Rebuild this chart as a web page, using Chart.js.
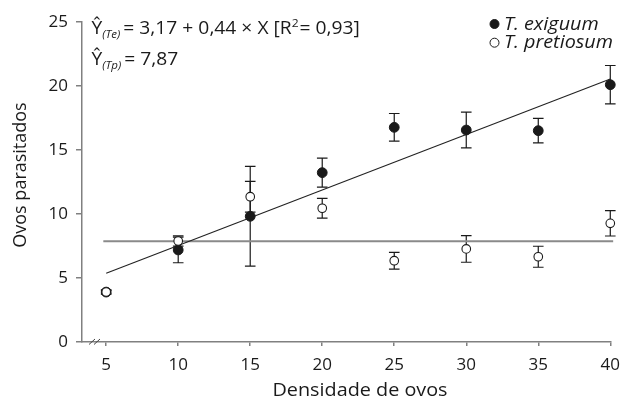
<!DOCTYPE html>
<html><head><meta charset="utf-8">
<script src="https://cdn.jsdelivr.net/npm/chart.js@4/dist/chart.umd.min.js"></script>
<style>html,body{margin:0;padding:0;background:#fff}#wrap{width:629px;height:400px}</style>
</head><body><div id="wrap"><canvas id="c" width="629" height="400"></canvas></div>
<script>
// ---- data ----
const densities      = [5, 10, 15, 20, 25, 30, 35, 40];
const exiguumMean    = [3.9, 7.19, 9.82, 13.23, 16.77, 16.56, 16.51, 20.1];
const exiguumErr     = [0.15, 1.0, 3.9, 1.13, 1.08, 1.4, 0.96, 1.5];
const pretiosumMean  = [3.9, 7.89, 11.35, 10.45, 6.35, 7.27, 6.66, 9.27];
const pretiosumErr   = [0.15, 0.4, 1.2, 0.77, 0.65, 1.04, 0.82, 0.99];
const fitExiguumX    = [5, 40];
const fitExiguumY    = [5.37, 20.55];
const fitPretiosumX  = [4.8, 40.2];
const fitPretiosumY  = [7.87, 7.87];
const xTickValues    = [5, 10, 15, 20, 25, 30, 35, 40];
const yTickValues    = [0, 5, 10, 15, 20, 25];
const seriesLabels   = ['T. exiguum', 'T. pretiosum'];
const xTitle = 'Densidade de ovos';
const yTitle = 'Ovos parasitados';
const eqTe = ['Ŷ', '(Te)', '= 3,17 + 0,44 × X [R', '2', '= 0,93]'];
const eqTp = ['Ŷ', '(Tp)', '= 7,87'];

const INK = '#1a1a1a';
const AXIS = '#808080';
const FONT = '"Open Sans", "Liberation Sans", sans-serif';

function pts(xs, ys) { return xs.map((v, i) => ({ x: v, y: ys[i] })); }

function txt(ctx, s, x, y, font, sx, align) {
  ctx.save();
  ctx.font = font;
  ctx.fillStyle = INK;
  ctx.translate(x, y);
  ctx.scale(sx || 1, 1);
  ctx.textAlign = align || 'left';
  ctx.textBaseline = 'alphabetic';
  ctx.fillText(s, 0, 0);
  const w = ctx.measureText(s).width * (sx || 1);
  ctx.restore();
  return w;
}

const errorBars = {
  id: 'errorBars',
  beforeDatasetsDraw(chart) {
    const { ctx, scales: { x, y } } = chart;
    ctx.save();
    ctx.strokeStyle = INK;
    ctx.lineWidth = 1.2;
    [[exiguumMean, exiguumErr], [pretiosumMean, pretiosumErr]].forEach(([m, e]) => {
      densities.forEach((d, i) => {
        const px = x.getPixelForValue(d);
        const t = y.getPixelForValue(m[i] + e[i]);
        const b = y.getPixelForValue(m[i] - e[i]);
        ctx.beginPath();
        ctx.moveTo(px, t); ctx.lineTo(px, b);
        ctx.moveTo(px - 5.3, t); ctx.lineTo(px + 5.3, t);
        ctx.moveTo(px - 5.3, b); ctx.lineTo(px + 5.3, b);
        ctx.stroke();
      });
    });
    ctx.restore();
  }
};

const annotations = {
  id: 'annotations',
  afterDraw(chart) {
    const ctx = chart.ctx;
    const SX = 1.1;
    const big = '17.5px ' + FONT;
    const small = 'italic 10.5px ' + FONT;
    const sup = '11px ' + FONT;
    // equation 1
    let x = 91.5, base = 33.5;
    x += txt(ctx, eqTe[0], x, base, big, SX);
    x += txt(ctx, eqTe[1], x, base + 4, small, SX) + 3;
    x += txt(ctx, eqTe[2], x, base, big, SX);
    x += txt(ctx, eqTe[3], x, base - 7, sup, SX) + 1;
    txt(ctx, eqTe[4], x, base, big, SX);
    // equation 2
    x = 91.5; base = 65;
    x += txt(ctx, eqTp[0], x, base, big, SX);
    x += txt(ctx, eqTp[1], x, base + 4, small, SX) + 3;
    txt(ctx, eqTp[2], x, base, big, SX);

    // legend
    const ds = chart.data.datasets;
    const legY = [24, 42.7];
    [0, 1].forEach(i => {
      ctx.save();
      ctx.beginPath();
      ctx.arc(494.5, legY[i], 4.5, 0, Math.PI * 2);
      ctx.fillStyle = ds[i].backgroundColor;
      ctx.fill();
      ctx.lineWidth = 1;
      ctx.strokeStyle = ds[i].borderColor;
      ctx.stroke();
      ctx.restore();
      txt(ctx, ds[i].label, 504, legY[i] + 5.5, 'italic 18px ' + FONT, 1.1);
    });

    // axis titles
    txt(ctx, xTitle, 360, 396, '18px ' + FONT, SX, 'center');
    ctx.save();
    ctx.translate(26, 175);
    ctx.rotate(-Math.PI / 2);
    txt(ctx, yTitle, 0, 0, '18px ' + FONT, 1, 'center');
    ctx.restore();

    // axis break marks
    ctx.save();
    ctx.strokeStyle = '#444';
    ctx.lineWidth = 1;
    ctx.beginPath();
    ctx.moveTo(89, 344.5); ctx.lineTo(95, 339);
    ctx.moveTo(94, 344.5); ctx.lineTo(100, 339);
    ctx.stroke();
    ctx.restore();
  }
};

new Chart(document.getElementById('c'), {
  type: 'scatter',
  data: {
    datasets: [
      { label: seriesLabels[0], data: pts(densities, exiguumMean), order: 1,
        pointRadius: 4.9, pointHoverRadius: 4.9, backgroundColor: INK, borderColor: INK, borderWidth: 1, clip: false },
      { label: seriesLabels[1], data: pts(densities, pretiosumMean), order: 0,
        pointRadius: 4.3, pointHoverRadius: 4.3, backgroundColor: '#ffffff', borderColor: INK, borderWidth: 1.1, clip: false },
      { label: 'fit Te', data: pts(fitExiguumX, fitExiguumY), order: 2, showLine: true,
        pointRadius: 0, borderColor: '#222', borderWidth: 1.1, clip: false },
      { label: 'fit Tp', data: pts(fitPretiosumX, fitPretiosumY), order: 3, showLine: true,
        pointRadius: 0, borderColor: '#8a8a8a', borderWidth: 2, clip: false }
    ]
  },
  options: {
    responsive: false,
    animation: false,
    devicePixelRatio: 1,
    layout: { padding: { left: 0, right: 11, top: 22, bottom: 0 } },
    plugins: { legend: { display: false }, tooltip: { enabled: false } },
    scales: {
      x: {
        type: 'linear', min: 3.32, max: 40,
        afterBuildTicks: s => { s.ticks = xTickValues.map(v => ({ value: v })); },
        afterFit: s => { s.height = 58; },
        ticks: { font: { family: FONT, size: 17 }, color: INK, padding: 9, maxRotation: 0 },
        grid: { drawOnChartArea: false, drawTicks: true, tickLength: 4, color: AXIS, lineWidth: 1.5 },
        border: { color: AXIS, width: 1.5 }
      },
      y: {
        type: 'linear', min: 0, max: 25,
        afterBuildTicks: s => { s.ticks = yTickValues.map(v => ({ value: v })); },
        afterFit: s => { s.width = 82; },
        ticks: { font: { family: FONT, size: 17 }, color: INK, padding: 8 },
        grid: { drawOnChartArea: false, drawTicks: true, tickLength: 6, color: AXIS, lineWidth: 1.5 },
        border: { color: AXIS, width: 1.5 }
      }
    }
  },
  plugins: [errorBars, annotations]
});
</script>
</body></html>
